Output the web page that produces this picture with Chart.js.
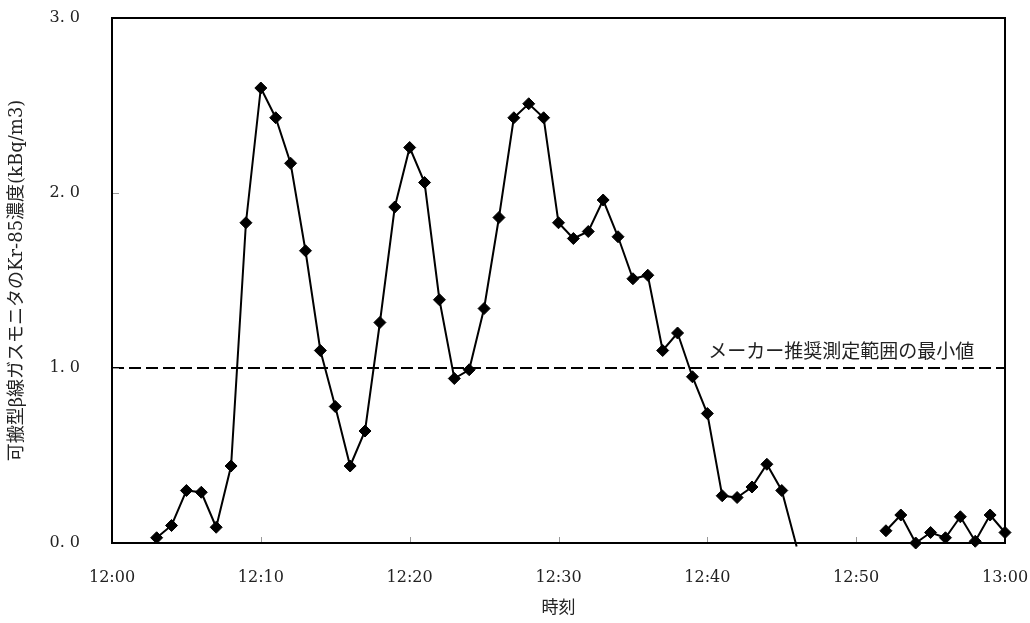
<!DOCTYPE html>
<html lang="ja">
<head>
<meta charset="UTF-8">
<title>Kr-85</title>
<script src="https://cdn.jsdelivr.net/npm/chart.js@4.4.0/dist/chart.umd.min.js"></script>
<style>
  body { margin: 0; background: #fff; }
  #wrap { width: 1030px; height: 623px; position: relative; }
</style>
</head>
<body>
<div id="wrap"><canvas id="myChart"></canvas></div>
<script>
// measured times (HH:MM) and Kr-85 concentration (kBq/m3); null = no data
const times = [
  '12:03','12:04','12:05','12:06','12:07','12:08','12:09','12:10','12:11','12:12',
  '12:13','12:14','12:15','12:16','12:17','12:18','12:19','12:20','12:21','12:22',
  '12:23','12:24','12:25','12:26','12:27','12:28','12:29','12:30','12:31','12:32',
  '12:33','12:34','12:35','12:36','12:37','12:38','12:39','12:40','12:41','12:42',
  '12:43','12:44','12:45','12:46','12:47','12:48','12:49','12:50','12:51','12:52',
  '12:53','12:54','12:55','12:56','12:57','12:58','12:59','13:00'
];
const values = [
  0.03, 0.10, 0.30, 0.29, 0.09, 0.44, 1.83, 2.60, 2.43, 2.17,
  1.67, 1.10, 0.78, 0.44, 0.64, 1.26, 1.92, 2.26, 2.06, 1.39,
  0.94, 0.99, 1.34, 1.86, 2.43, 2.51, 2.43, 1.83, 1.74, 1.78,
  1.96, 1.75, 1.51, 1.53, 1.10, 1.20, 0.95, 0.74, 0.27, 0.26,
  0.32, 0.45, 0.30, -0.02, null, null, null, null, null, 0.07,
  0.16, 0.00, 0.06, 0.03, 0.15, 0.01, 0.16, 0.06
];

// maker's recommended minimum of the measuring range
const limitTimes = ['12:00', '13:00'];
const limitValues = [1.0, 1.0];
const limitLabel = 'メーカー推奨測定範囲の最小値';
const limitLabelAt = { time: '12:49', value: 1.1 };

const xTickLabels = ['12:00','12:10','12:20','12:30','12:40','12:50','13:00'];
const yTickLabels = ['0. 0','1. 0','2. 0','3. 0'];
const xTitle = '時刻';
const yTitle = '可搬型β線ガスモニタのKr-85濃度(kBq/m3)';

const toMin = t => { const p = t.split(':'); return (+p[0] - 12) * 60 + (+p[1]); };

const serif = 'DejaVu Serif, "Noto Sans CJK JP", serif';
const jp = '"Noto Sans CJK JP", sans-serif';

// frame + inward tick marks + limit label
const framePlugin = {
  id: 'frame',
  afterDraw(chart) {
    const { ctx, chartArea: a, scales } = chart;
    ctx.save();
    ctx.strokeStyle = '#999';
    ctx.lineWidth = 1;
    xTickLabels.forEach(t => {
      const px = Math.round(scales.x.getPixelForValue(toMin(t))) + 0.5;
      ctx.beginPath(); ctx.moveTo(px, a.bottom); ctx.lineTo(px, a.bottom - 6); ctx.stroke();
    });
    yTickLabels.forEach((t, i) => {
      const py = Math.round(scales.y.getPixelForValue(i)) + 0.5;
      ctx.beginPath(); ctx.moveTo(a.left, py); ctx.lineTo(a.left + 7, py); ctx.stroke();
    });
    ctx.strokeStyle = '#000';
    ctx.lineWidth = 2;
    ctx.strokeRect(a.left, a.top, a.right - a.left, a.bottom - a.top);
    ctx.fillStyle = '#222';
    ctx.font = '19px ' + jp;
    ctx.textAlign = 'center';
    ctx.textBaseline = 'middle';
    ctx.fillText(limitLabel, scales.x.getPixelForValue(toMin(limitLabelAt.time)),
      scales.y.getPixelForValue(limitLabelAt.value));
    ctx.restore();
  }
};

new Chart(document.getElementById('myChart'), {
  type: 'line',
  data: {
    datasets: [{
      data: times.map((t, i) => ({ x: toMin(t), y: values[i] })),
      borderColor: '#000',
      backgroundColor: '#000',
      borderWidth: 2,
      pointStyle: 'rectRot',
      pointRadius: c => (c.raw && c.raw.y < 0 ? 0 : 6),
      pointBorderWidth: 1,
      tension: 0,
      spanGaps: false,
      clip: { left: 10, top: 10, right: 10, bottom: 7 }
    }, {
      data: limitTimes.map((t, i) => ({ x: toMin(t), y: limitValues[i] })),
      borderColor: '#000',
      borderWidth: 2,
      borderDash: [12, 5],
      pointRadius: 0
    }]
  },
  options: {
    responsive: true,
    maintainAspectRatio: false,
    animation: false,
    layout: { padding: { top: 18, right: 25, left: 0, bottom: 0 } },
    plugins: { legend: { display: false }, tooltip: { enabled: false } },
    scales: {
      x: {
        type: 'linear', min: 0, max: 60,
        afterFit: s => { s.height = 80; s.paddingLeft = 0; s.paddingRight = 0; },
        grid: { display: false, drawTicks: false },
        border: { display: false },
        ticks: {
          stepSize: 10, padding: 25, color: '#222', maxRotation: 0,
          font: { family: serif, size: 16 },
          callback: (v) => xTickLabels[v / 10]
        },
        title: { display: true, text: xTitle, color: '#222',
          font: { family: jp, size: 17 }, padding: { top: 0, bottom: 6 } }
      },
      y: {
        min: 0, max: 3,
        afterFit: s => { s.width = 112; s.paddingTop = 0; s.paddingBottom = 0; },
        grid: { display: false, drawTicks: false },
        border: { display: false },
        ticks: {
          stepSize: 1, padding: 32, color: '#222',
          font: { family: serif, size: 16 },
          callback: (v) => yTickLabels[v]
        },
        title: { display: true, text: yTitle, color: '#222',
          font: { family: serif, size: 18 }, padding: { top: 7, bottom: 0 } }
      }
    }
  },
  plugins: [framePlugin]
});
</script>
</body>
</html>
